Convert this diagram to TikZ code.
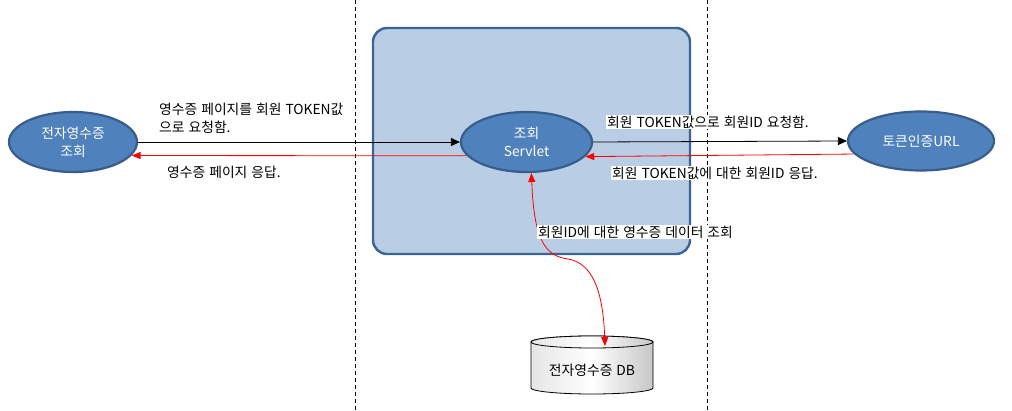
\documentclass[tikz,border=0pt]{standalone}
\usepackage{fontspec}
\setmainfont[WordSpace=1.3]{Noto Sans CJK KR}
\usetikzlibrary{arrows.meta,shapes.geometric}
\definecolor{ellfill}{HTML}{4F81BD}
\definecolor{ellline}{HTML}{385D8A}
\definecolor{boxfill}{HTML}{B9CDE5}
\definecolor{boxline}{HTML}{3A6496}
\definecolor{flowred}{HTML}{FF0000}
\begin{document}
\begin{tikzpicture}[x=1pt,y=-1pt,
  font=\fontsize{13.8}{18}\selectfont,
  actor/.style={ellipse, draw=ellline, fill=ellfill, line width=2.2pt,
    text=white, align=center, inner sep=0pt},
  divider/.style={black, line width=0.9pt, dash pattern=on 4pt off 3pt},
  reqarrow/.style={black, line width=0.8pt, -{Triangle[length=9pt,width=8pt]}},
  resarrow/.style={flowred, line width=0.8pt, -{Triangle[length=9pt,width=7pt]}},
  msg/.style={inner sep=1pt, anchor=west},
  msgbg/.style={msg, fill=white}]
  \useasboundingbox (0,0) rectangle (1012,411);

  % tier dividers
  \draw[divider] (355,0) -- (355,411);
  \draw[divider] (707,0) -- (707,411);

  % server container
  \node[draw=boxline, fill=boxfill, line width=2.4pt, rounded corners=14pt,
        minimum width=317pt, minimum height=226pt, inner sep=0pt] (server) at (531.5,141) {};

  % actors
  \node[actor, minimum width=128pt, minimum height=60pt] (rcpt) at (73,142) {전자영수증\\조회};
  \node[actor, minimum width=131pt, minimum height=60pt] (servlet) at (526.5,142) {조회\\Servlet};
  \node[actor, minimum width=146pt, minimum height=59pt] (tok) at (921,141) {토큰인증URL};

  % receipt database (cylinder)
  \shade[left color=black!10, right color=black!22, middle color=white, draw=black, line width=0.8pt]
    (531,342) -- (531,388) arc[start angle=180, end angle=0, x radius=61, y radius=6]
    -- (653,342) arc[start angle=0, end angle=-180, x radius=61, y radius=6] -- cycle;
  \shade[left color=black!10, right color=black!22, middle color=white, draw=black, line width=0.8pt]
    (592,342) ellipse[x radius=61, y radius=6];
  \node (db) at (592,370) {전자영수증 DB};
  \coordinate (dbtop) at (605,346);

  % request / response flows
  \draw[reqarrow] (rcpt.east) -- (servlet.west);
  \draw[resarrow] (servlet.193.6) -- (rcpt.-13.9);
  \draw[reqarrow] (servlet.east) -- (tok.west);
  \draw[resarrow] (tok.191.2) -- (servlet.-14.8);
  \draw[flowred, line width=0.8pt, {Triangle[length=9pt,width=7pt]}-{Triangle[length=9pt,width=7pt]}]
    (servlet.-81) .. controls (534,240) and (545,256) .. (568,259)
    .. controls (592,263) and (603,290) .. (dbtop);

  % flow labels
  \node[msg, align=left, anchor=north west] (l1) at (158,102) {영수증 페이지를 회원 TOKEN값\\으로 요청함.};
  \node[msg] (l2) at (166,172) {영수증 페이지 응답.};
  \node[msgbg] (r1) at (606,122) {회원 TOKEN값으로 회원ID 요청함.};
  \node[msgbg] (r2) at (611,173) {회원 TOKEN값에 대한 회원ID 응답.};
  \node[msgbg] (c1) at (537,232) {회원ID에 대한 영수증 데이터 조회};
\end{tikzpicture}
\end{document}
